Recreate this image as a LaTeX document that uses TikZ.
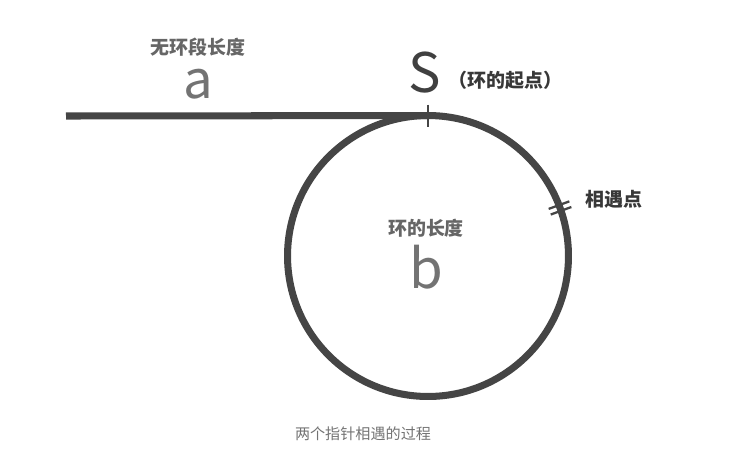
\documentclass[tikz,border=0pt]{standalone}
\usepackage{fontspec}
\setmainfont{Noto Sans CJK SC}
\usepackage{tikz}
\usetikzlibrary{positioning, calc}

\begin{document}
\begin{tikzpicture}[
    x=0.02cm, y=-0.02cm,
    track/.style={line width=4pt, draw=black!73},
    tick/.style={line width=1.3pt, draw=black!73},
    lbl/.style={font=\fontsize{10.8}{12}\selectfont\bfseries, text=black!60, inner sep=0pt},
    big/.style={font=\fontsize{31}{34}\selectfont, inner sep=0pt, anchor=base},
    note/.style={font=\fontsize{10.8}{12}\selectfont\bfseries, text=black!78, inner sep=0pt},
]
\useasboundingbox (0,0) rectangle (740,457);

% the loop and the straight part
\node[track, circle, minimum size=5.62cm, outer sep=0pt, inner sep=0pt] (loop) at (428,256) {};
\coordinate (start) at (66,116);
\draw[track] (start) -- (loop.north);

% marks on the track
\draw[tick] ($(loop.north)+(0,-11)$) -- ($(loop.north)+(0,11)$);
\coordinate (meet) at (loop.20);
\draw[tick, rotate around={20:(meet)}] ($(meet)+(-11,-3)$) -- ($(meet)+(11,-3)$);
\draw[tick, rotate around={20:(meet)}] ($(meet)+(-11,3)$) -- ($(meet)+(11,3)$);

% labels of the straight part
\node[lbl] (tailname) at (198,47) {无环段长度};
\node[big, text=black!55, text height=0.56em, font=\fontsize{30}{34}\selectfont] (a) at (198,98) {a};

% labels of the start point
\node[big, text=black!75] (S) at (425,92) {S};
\node[note, anchor=west] (Sname) at (448,80) {（环的起点）};

% labels of the loop
\node[lbl] (loopname) at (426,228) {环的长度};
\node[big, text=black!55] (b) at (426,288) {b};
\node[note, anchor=west] (meetname) at (585,199) {相遇点};

% caption
\node[font=\fontsize{8.6}{10}\selectfont, text=black!55, inner sep=0pt] (cap) at (363,434) {两个指针相遇的过程};

\end{tikzpicture}
\end{document}
